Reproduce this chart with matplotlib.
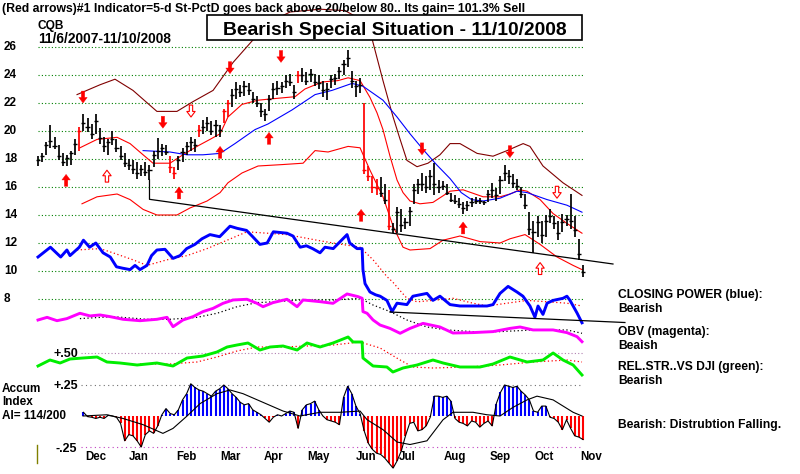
import numpy as np
import pandas as pd
import matplotlib
matplotlib.use("Agg")
import matplotlib.pyplot as plt
from matplotlib.patches import Rectangle
from matplotlib.lines import Line2D

plt.rcParams['font.family'] = ['Liberation Sans', 'DejaVu Sans']

# ---- data ----
start, end = "2007-11-06", "2008-11-10"
days = pd.bdate_range(start, end)
bar_x = np.arange(len(days))[::2]          # one bar every 2 trading days

high = [18.2, 18.4, 19.2, 20.4, 19.6, 19.0, 18.4, 18.3, 18.6, 19.4,
        20.3, 21.2, 20.9, 20.5, 21.2, 20.2, 19.6, 19.4, 20.0, 19.4,
        18.9, 18.4, 18.0, 17.9, 17.8, 17.6, 17.8, 17.6, 18.6, 19.5,
        19.1, 19.0, 18.2, 17.4, 18.2, 18.8, 19.2, 19.6, 19.4, 20.4,
        20.8, 21.0, 20.7, 20.8, 20.4, 21.6, 22.2, 23.0, 23.5, 23.3,
        23.6, 23.4, 22.8, 22.5, 22.0, 21.6, 22.6, 23.4, 23.6, 23.5,
        24.0, 24.1, 23.3, 24.3, 24.5, 24.2, 24.4, 24.1, 24.0, 23.6,
        23.4, 24.0, 24.1, 24.6, 25.1, 25.8, 24.3, 23.6, 23.8, 22.0,
        17.5, 16.8, 16.6, 16.7, 16.2, 15.8, 13.4, 14.6, 14.4, 13.8,
        14.6, 16.2, 16.6, 17.0, 16.8, 17.2, 17.7, 16.5, 16.4, 16.2,
        15.6, 15.4, 15.2, 14.9, 15.0, 15.2, 15.3, 15.2, 15.0, 15.8,
        16.3, 15.9, 16.8, 17.6, 17.2, 16.9, 16.6, 16.0, 15.5, 14.2,
        13.6, 13.9, 13.6, 14.0, 14.4, 13.9, 13.6, 14.1, 14.0, 15.5,
        13.9, 12.3, 10.4]
low = [17.5, 17.8, 18.3, 18.8, 18.7, 17.9, 17.5, 17.5, 17.6, 18.3,
       18.6, 20.0, 19.9, 19.4, 19.8, 19.1, 18.5, 18.3, 19.0, 18.5,
       17.9, 17.4, 17.2, 16.9, 16.6, 16.8, 16.8, 16.5, 17.4, 18.0,
       18.2, 18.3, 17.0, 16.6, 17.2, 17.8, 18.3, 18.6, 18.5, 19.6,
       19.8, 20.0, 19.7, 19.6, 19.6, 20.6, 21.0, 21.7, 22.3, 22.4,
       22.5, 22.6, 22.0, 21.7, 21.0, 20.7, 21.4, 22.3, 22.6, 22.7,
       23.1, 23.2, 22.3, 23.4, 23.5, 23.3, 23.5, 23.2, 23.0, 22.4,
       22.2, 23.1, 23.3, 23.7, 24.0, 24.6, 23.1, 22.4, 22.7, 16.9,
       16.4, 15.6, 15.4, 15.3, 14.8, 12.9, 12.7, 12.7, 12.8, 13.0,
       13.2, 14.8, 15.5, 15.7, 15.6, 15.8, 15.4, 15.6, 15.8, 15.4,
       14.9, 14.8, 14.5, 14.1, 14.3, 14.6, 14.8, 14.8, 14.7, 14.9,
       15.2, 15.0, 15.5, 16.4, 16.2, 15.9, 15.8, 15.2, 14.4, 12.6,
       11.3, 12.4, 12.0, 12.4, 13.4, 13.0, 12.2, 12.8, 13.2, 13.0,
       12.4, 10.8, 9.6]
close = [17.9, 18.2, 19.0, 19.3, 18.9, 18.2, 17.8, 18.1, 18.4, 19.1,
         20.0, 20.6, 20.3, 19.8, 20.7, 19.5, 18.9, 19.2, 19.4, 18.8,
         18.2, 17.7, 17.6, 17.3, 17.0, 17.3, 17.1, 17.2, 18.3, 18.6,
         18.8, 18.5, 17.4, 17.0, 17.9, 18.5, 18.9, 19.2, 19.0, 20.1,
         20.3, 20.6, 20.0, 20.4, 20.1, 21.4, 22.0, 22.6, 23.0, 22.8,
         23.2, 22.9, 22.3, 22.0, 21.4, 21.2, 22.3, 23.0, 23.1, 23.2,
         23.6, 23.5, 22.8, 24.0, 24.0, 23.6, 24.1, 23.5, 23.4, 22.9,
         23.0, 23.7, 23.8, 24.3, 24.8, 25.2, 23.6, 23.2, 23.3, 17.2,
         16.8, 16.0, 15.9, 15.6, 15.1, 13.2, 13.0, 14.2, 13.3, 13.5,
         14.3, 15.8, 16.2, 16.2, 16.0, 16.8, 16.2, 16.0, 16.1, 15.6,
         15.1, 15.0, 14.8, 14.5, 14.7, 14.9, 15.0, 15.0, 14.9, 15.5,
         15.8, 15.4, 16.5, 17.0, 16.8, 16.3, 16.1, 15.5, 14.7, 13.0,
         12.8, 13.5, 12.6, 13.6, 13.9, 13.4, 12.7, 13.5, 13.7, 13.6,
         12.9, 11.2, 9.9]
red_bars = [10, 32, 33, 39, 45, 46, 63, 79, 80, 81, 82, 85]

# 21-day average (red), upper band (dark red), lower band (red), 50-day average (blue)
ma21_x = [20.3, 28.6, 38.3, 44.6, 50.9, 55.7, 63.9, 70.2, 77.0, 83.3, 88.2, 92.0, 98.8,
          106.6, 113.4, 124.5, 129.3, 137.6, 145.3, 150.2, 156.0, 160.8, 164.2, 167.1,
          170.5, 173.9, 176.8, 180.2, 185.0, 191.3, 199.6, 205.9, 215.6, 223.8, 228.6,
          233.5, 236.9, 243.2, 249.5, 256.2, 263.5]
ma21 = [18.8, 19.4, 19.55, 19.1, 18.3, 17.7, 17.7, 18.3, 18.9, 19.4, 19.8, 21.0, 21.9,
        22.2, 22.3, 22.45, 23.0, 23.5, 23.6, 23.8, 23.6, 22.4, 21.3, 20.1,
        18.2, 16.5, 15.6, 15.0, 14.8, 14.9, 15.7, 15.8, 15.3, 15.3, 15.5,
        15.8, 15.7, 15.1, 14.1, 13.4, 12.7]
upper_x = [18.9, 30.0, 37.3, 46.0, 57.6, 67.3, 75.1, 84.8, 94.5, 104.1, 112.4, 122.1,
           136.6, 148.7, 156.0, 160.8, 162.3, 167.1, 172.0, 175.4, 178.7, 183.6, 188.9,
           194.7, 199.6, 204.4, 212.7, 220.4, 227.2, 235.0, 238.3, 244.6, 254.3, 263.5]
upper = [22.6, 23.3, 23.7, 22.9, 21.4, 21.4, 22.1, 22.9, 24.9, 26.5, 27.8, 28.5,
         28.7, 28.6, 28.0, 27.2, 26.3, 23.6, 21.0, 19.4, 17.9, 17.45, 17.7,
         18.3, 19.1, 19.1, 18.4, 18.2, 18.6, 19.1, 18.9, 17.5, 16.3, 15.4]
lower_x = [21.3, 28.6, 38.3, 44.6, 50.9, 57.6, 67.3, 73.6, 81.9, 88.2, 92.0, 98.8, 106.6,
           118.2, 128.4, 134.2, 140.5, 150.2, 156.0, 160.8, 167.1, 172.0, 176.8, 180.2,
           189.9, 196.2, 204.4, 214.1, 223.8, 228.6, 235.9, 243.2, 251.4, 259.2, 263.5]
lower = [14.8, 15.3, 15.5, 15.1, 14.4, 14.0, 14.0, 14.5, 15.0, 15.6, 16.3, 17.0, 17.5,
         17.6, 17.7, 18.6, 18.5, 18.9, 18.8, 17.2, 15.3, 13.2, 11.7, 11.5,
         11.6, 12.2, 12.5, 12.1, 12.0, 12.3, 12.6, 11.9, 11.0, 10.4, 10.1]
ma50_x = [50.9, 63.9, 72.2, 79.9, 88.2, 95.4, 105.1, 111.4, 123.0, 134.2, 142.4, 152.1,
          157.4, 167.1, 173.9, 180.2, 187.0, 193.0, 199.6, 205.0, 210.0, 215.6, 223.8,
          232.0, 236.9, 246.6, 256.2, 263.5]
ma50 = [18.6, 18.5, 18.3, 18.3, 18.4, 19.1, 20.1, 20.5, 21.5, 22.6, 22.9, 23.4,
        23.2, 22.2, 21.0, 19.8, 18.6, 17.6, 16.6, 15.6, 15.1, 15.0, 15.2,
        15.7, 15.6, 15.1, 14.7, 14.2]

# red arrows (signals): day, arrow-tip price, hollow?
down_x = [21.8, 60.5, 74.1, 93.0, 117.7, 186.0, 228.6, 251.4]
down_tip = [22.0, 20.2, 21.0, 24.1, 24.9, 18.3, 18.1, 15.2]
down_hollow = [False, False, True, False, False, False, False, True]
up_x = [13.6, 33.4, 68.3, 88.2, 111.9, 156.5, 205.9, 243.2]
up_tip = [16.9, 17.2, 16.0, 18.9, 19.9, 14.4, 13.5, 10.6]
up_hollow = [False, True, False, False, False, False, False, True]

trend_x = [54, 54, 278.5]
trend_y = [16.5, 15.12, 10.5]

# Closing Power (blue) and its average, drawn on the price scale
cp_x = [0, 6, 11, 14, 15.5, 20, 22, 25, 28, 31.5, 35, 38, 41, 44.6, 47, 49.4, 52.8, 55, 57.6,
        61.5, 65.4, 68.8, 72, 76, 79.4, 83.3, 88, 93, 96.4, 101, 104, 107.5, 111, 114, 120.6,
        123.5, 127, 130, 133, 136.6, 139, 143, 149.7, 151, 154.5, 157, 157.4, 158.4, 160.8,
        163.5, 165.7, 169, 171.5, 173.9, 178.7, 181.6, 188.4, 191.3, 194.7, 199.6, 204.4,
        210.7, 217.5, 220.4, 223.8, 227.7, 232, 234.9, 238.3, 240.7, 242.2, 244.6, 246.6,
        249.5, 254.3, 256.2, 257.7, 261.1, 263.5]
cp = [11.0, 11.7, 11.0, 11.5, 11.1, 11.7, 12.2, 11.7, 12.0, 11.3, 11.0, 10.3, 10.2, 10.1,
      10.4, 10.1, 10.4, 11.1, 11.5, 11.55, 10.9, 11.1, 11.6, 11.9, 12.3, 12.6, 12.45, 13.2,
      13.05, 12.9, 12.45, 11.9, 12.0, 12.8, 12.7, 12.5, 11.7, 11.8, 11.6, 11.3, 11.7, 11.6,
      12.6, 12.0, 11.6, 11.6, 10.1, 9.1, 8.5, 8.3, 8.2, 7.9, 7.1, 7.7, 7.6, 8.2, 8.4, 7.9,
      8.2, 7.6, 7.5, 7.5, 7.5, 7.6, 8.4, 8.9, 8.5, 8.2, 7.5, 6.7, 7.5, 6.9, 7.7, 7.9, 8.05,
      8.2, 7.9, 7.0, 6.3]
cpma_x = [18.9, 30.0, 36.3, 46.0, 52.8, 62.5, 72.2, 81.9, 91.6, 101.2, 110.9, 120.6, 135.1,
          142.9, 156.0, 162.3, 169.0, 171.9, 175.4, 178.7, 183.6, 191.3, 201.0, 210.7, 217.5,
          227.2, 236.9, 246.6, 256.2, 263.5]
cpma = [11.5, 11.6, 11.3, 10.8, 10.4, 10.8, 11.1, 11.6, 12.2, 12.8, 12.7, 12.6, 12.2,
        12.0, 11.7, 10.8, 9.6, 9.2, 8.6, 8.05, 7.8, 7.9, 8.05, 7.7, 7.5,
        7.7, 7.9, 7.8, 7.7, 7.5]
cp_trend_x = [170.5, 284.3]
cp_trend_y = [7.07, 6.32]

# OBV (magenta) and its average
obv_x = [0, 4.4, 9.2, 14.0, 20.3, 25.2, 30.0, 34.9, 41.2, 49.4, 57.6, 62.5, 65.4, 70.2,
         75.1, 79.9, 84.8, 89.6, 94.5, 101.2, 106.1, 109.0, 113.8, 120.6, 125.5, 128.4,
         136.6, 142.9, 149.7, 155.0, 157.0, 157.4, 159.4, 162.3, 165.7, 170.5, 175.4,
         180.2, 186.5, 194.7, 201.0, 210.7, 220.4, 228.6, 233.5, 239.8, 249.5, 256.2,
         261.1, 263.5]
obv = [6.5, 6.69, 6.45, 6.6, 6.98, 6.79, 6.86, 6.74, 6.55, 6.45, 6.55, 6.69, 6.02, 6.5,
       6.74, 7.1, 7.33, 7.69, 7.93, 7.98, 7.69, 7.45, 7.74, 7.98, 7.45, 7.93,
       7.81, 7.69, 8.36, 8.17, 8.05, 7.1, 6.98, 6.5, 6.14, 5.9, 5.55,
       5.9, 6.26, 6.0, 5.57, 5.6, 5.67, 5.9, 6.0, 5.79, 5.79, 5.6, 5.31, 4.95]
obvma_x = [20.3, 36.3, 52.8, 63.9, 77.0, 86.7, 96.4, 106.1, 115.8, 126.9, 142.9, 156.0,
           162.3, 170.5, 178.7, 188.4, 198.1, 210.7, 223.8, 239.8, 256.2, 263.5]
obvma = [6.6, 6.74, 6.55, 6.55, 6.69, 6.98, 7.45, 7.74, 7.81, 7.93, 7.93, 8.05,
         7.57, 7.1, 6.5, 6.0, 5.79, 5.67, 5.67, 5.79, 5.79, 5.55]

# relative strength vs DJI (green) and its average
rs_x = [0, 5.8, 10.7, 15.5, 21.8, 28.6, 33.4, 39.7, 48.0, 57.6, 65.4, 72.2, 79.9, 86.7,
        91.6, 96.4, 101.7, 107.5, 112.4, 118.7, 125.5, 130.3, 136.6, 142.9, 150.2, 152.6,
        157.0, 157.4, 162.3, 169.0, 171.9, 176.8, 183.6, 191.3, 196.2, 204.4, 214.1,
        220.4, 228.6, 236.9, 244.6, 249.5, 254.3, 259.2, 263.5]
rs = [0.448, 0.472, 0.46, 0.476, 0.48, 0.484, 0.464, 0.46, 0.452, 0.46, 0.448, 0.48,
      0.488, 0.504, 0.524, 0.532, 0.54, 0.512, 0.524, 0.528, 0.512, 0.54, 0.524, 0.54,
      0.564, 0.544, 0.544, 0.48, 0.448, 0.444, 0.424, 0.44, 0.452, 0.472, 0.46, 0.444,
      0.444, 0.456, 0.484, 0.464, 0.472, 0.5, 0.472, 0.452, 0.412]
rsma_x = [49.4, 63.9, 77.0, 86.7, 96.4, 106.1, 118.7, 130.3, 142.9, 156.0, 165.7, 175.4,
          181.6, 191.3, 207.8, 223.8, 239.8, 256.2, 263.5]
rsma = [0.456, 0.456, 0.464, 0.484, 0.508, 0.524, 0.524, 0.528, 0.532, 0.544, 0.52, 0.472,
        0.444, 0.44, 0.444, 0.452, 0.464, 0.472, 0.464]

# Accumulation Index, one value per bar from bar 11 on
ai_first = 11
ai = [0.03, -0.005, -0.01, -0.02, -0.01, -0.02, 0.005, 0.0, -0.01, -0.06,
      -0.2, -0.15, -0.16, -0.2, -0.25, -0.15, -0.12, -0.14, -0.08, 0.01,
      0.06, 0.02, 0.01, 0.05, 0.13, 0.18, 0.26, 0.23, 0.21, 0.2,
      0.18, 0.16, 0.2, 0.22, 0.25, 0.22, 0.18, 0.15, 0.11, 0.09,
      0.1, 0.05, 0.03, 0.01, -0.02, -0.05, -0.01, 0.01, 0.0, 0.02,
      0.04, 0.03, -0.1, 0.05, 0.09, 0.1, 0.12, 0.05, 0.0, -0.03,
      -0.04, -0.05, -0.07, 0.15, 0.24, 0.18, 0.08, 0.02, -0.12, -0.22,
      -0.27, -0.3, -0.31, -0.34, -0.38, -0.42, -0.36, -0.28, -0.16, -0.06,
      -0.05, -0.12, -0.11, -0.08, -0.01, 0.16, 0.16, 0.15, 0.16, 0.12,
      -0.02, -0.05, -0.06, -0.08, -0.04, -0.05, -0.09, -0.06, -0.04, -0.08,
      0.1, 0.19, 0.25, 0.24, 0.23, 0.24, 0.2, 0.17, 0.13, 0.04,
      0.03, 0.08, 0.08, -0.01, -0.02, -0.05, -0.11, -0.03, -0.1, -0.16, -0.17, -0.19]
aima_x = [21.8, 33.4, 41.2, 50.9, 60.5, 65.4, 72.2, 78.5, 86.7, 93.0, 99.3, 109.0, 118.7,
          126.9, 136.6, 146.3, 156.0, 159.4, 167.1, 173.9, 180.2, 188.4, 196.2, 201.0,
          210.7, 217.5, 223.8, 230.1, 236.9, 241.7, 249.5, 259.2, 263.5]
aima = [0.0, 0.01, -0.02, -0.07, -0.14, -0.1, 0.0, 0.1, 0.18, 0.21, 0.18, 0.11, 0.04,
        0.0, 0.03, 0.03, 0.04, -0.03, -0.11, -0.21, -0.23, -0.2, -0.03, 0.03,
        0.03, 0.01, 0.0, 0.07, 0.13, 0.16, 0.13, 0.03, 0.0]

price_levels = [26, 24, 22, 20, 18, 16, 14, 12, 10, 8]
months = ["Dec", "Jan", "Feb", "Mar", "Apr", "May", "Jun", "Jul", "Aug", "Sep", "Oct", "Nov"]
month_dates = pd.date_range("2007-12-14", periods=12, freq=pd.DateOffset(months=1))

# ---- figure ----
W, H = 800, 474
fig = plt.figure(figsize=(W / 100, H / 100), dpi=100)
ax = fig.add_axes([0, 0, 1, 1])
ax.set_xlim(-18.41, 369.1)
ax.set_ylim(-4.5, 29.357)
ax.axis('off')
ax_rs = ax.twinx()
ax_rs.set_ylim(0.016, 1.912)
ax_rs.axis('off')
ax_ai = ax.twinx()
ax_ai.set_ylim(-0.4677, 3.3548)
ax_ai.axis('off')


def ftext(x, y, s, **kw):
    fig.text(x / W, 1 - y / H, s, **kw)


# grid
ax.hlines(price_levels, 0, 264, colors='#008000', linestyles=(0, (1, 2)), lw=0.8)
ax_rs.hlines(0.5, 21, 264, colors='#b080b0', linestyles=(0, (1, 2)), lw=0.8)
ax_ai.hlines(0.25, 21, 264, colors='#707070', linestyles=(0, (1, 3)), lw=0.8)
ax_ai.hlines(-0.25, 21, 264, colors='#c040c0', linestyles=(0, (1, 3)), lw=0.8)
for p in price_levels:
    ax.text(0.005, p - 0.21, str(p), transform=ax.get_yaxis_transform(),
            ha='left', va='baseline', fontsize=8.5, fontweight='bold')

# bands and averages
ax.plot(upper_x, upper, color='#800000', lw=0.8)
ax.plot(lower_x, lower, color='red', lw=0.8)
ax.plot(ma21_x, ma21, color='red', lw=0.8)
ax.plot(ma50_x, ma50, color='blue', lw=0.8)

# price bars
bar_colors = ['red' if i in red_bars else 'black' for i in range(len(high))]
ax.vlines(bar_x, low, high, colors=bar_colors, lw=1.25)
ax.hlines(close, bar_x - 1.0, bar_x + 1.0, colors=bar_colors, lw=1.0)
ax.plot(trend_x, trend_y, color='black', lw=0.9, clip_on=False)

# arrows
def arrow(x, tip, down, hollow):
    tail = tip + 0.85 if down else tip - 0.85
    ax.annotate('', xy=(x, tip), xytext=(x, tail),
                arrowprops=dict(arrowstyle='simple,head_width=0.75,head_length=0.5,tail_width=0.3',
                                fc='white' if hollow else 'red', ec='red',
                                lw=0.8 if hollow else 0.3, shrinkA=0, shrinkB=0,
                                mutation_scale=8))


for x, t, h in zip(down_x, down_tip, down_hollow):
    arrow(x, t, True, h)
for x, t, h in zip(up_x, up_tip, up_hollow):
    arrow(x, t, False, h)

# closing power
ax.plot(cpma_x, cpma, color='red', lw=0.9, linestyle=(0, (1, 2)))
ax.plot(cp_x, cp, color='blue', lw=2.1)
ax.plot(cp_trend_x, cp_trend_y, color='black', lw=0.9, clip_on=False)

# OBV
ax.plot(obvma_x, obvma, color='black', lw=0.9, linestyle=(0, (1, 2)))
ax.plot(obv_x, obv, color='#ff00ff', lw=2.1)

# relative strength
ax_rs.plot(rsma_x, rsma, color='red', lw=0.9, linestyle=(0, (1, 2)))
ax_rs.plot(rs_x, rs, color='#00ee00', lw=2.1)

# accumulation index
ai_x = bar_x[ai_first:]
ai_colors = ['blue' if v > 0 else 'red' for v in ai]
ax_ai.vlines(ai_x, 0, ai, colors=ai_colors, lw=1.5)
ax_ai.plot(ai_x, ai, color='black', lw=0.8)
ax_ai.plot(aima_x, aima, color='black', lw=0.8)

# month labels
for m, d in zip(months, month_dates):
    x = np.busday_count(start, d.strftime("%Y-%m-%d"))
    ax.text(x, 1 - 460 / H, m, transform=ax.get_xaxis_transform(),
            ha='center', va='baseline', fontsize=8.3, fontweight='bold')

# title box
fig.add_artist(Rectangle((207 / W, 1 - 40 / H), 375 / W, 25 / H, transform=fig.transFigure,
                         fc='white', ec='black', lw=1.2))
ftext(394.5, 35, "Bearish Special Situation - 11/10/2008", ha='center', va='baseline',
      fontsize=13.9, fontweight='bold', zorder=5)

ftext(2, 12, "(Red arrows)#1 Indicator=5-d St-PctD goes back above 20/below 80.. "
             "Its gain= 101.3% Sell", ha='left', va='baseline', fontsize=8.85,
      fontweight='bold')
ftext(38, 29, "CQB", ha='left', va='baseline', fontsize=8.6, fontweight='bold')
ftext(38, 43, "11/6/2007-11/10/2008", ha='left', va='baseline', fontsize=9.9,
      fontweight='bold')

# right-hand notes
notes = [(298, "CLOSING POWER (blue):"), (312, "Bearish"), (335, "OBV (magenta):"),
         (349, "Beaish"), (370, "REL.STR..VS DJI (green):"), (384, "Bearish"),
         (428, "Bearish: Distrubtion Falling.")]
for y, s in notes:
    ftext(618, y, s, ha='left', va='baseline', fontsize=8.7, fontweight='bold')

# left-hand labels
ftext(2, 392, "Accum", ha='left', va='baseline', fontsize=8.5, fontweight='bold')
ftext(2, 405, "Index", ha='left', va='baseline', fontsize=8.5, fontweight='bold')
ftext(2, 419, "AI= 114/200", ha='left', va='baseline', fontsize=8.5, fontweight='bold')
ftext(53, 357, "+.50", ha='left', va='baseline', fontsize=9, fontweight='bold')
ftext(53, 389, "+.25", ha='left', va='baseline', fontsize=9, fontweight='bold')
ftext(55, 452, "-.25", ha='left', va='baseline', fontsize=9, fontweight='bold')
fig.add_artist(Line2D([37 / W, 37 / W], [1 - 445 / H, 1 - 463 / H], color='#808000', lw=1))

fig.savefig("out.png", dpi=100)
